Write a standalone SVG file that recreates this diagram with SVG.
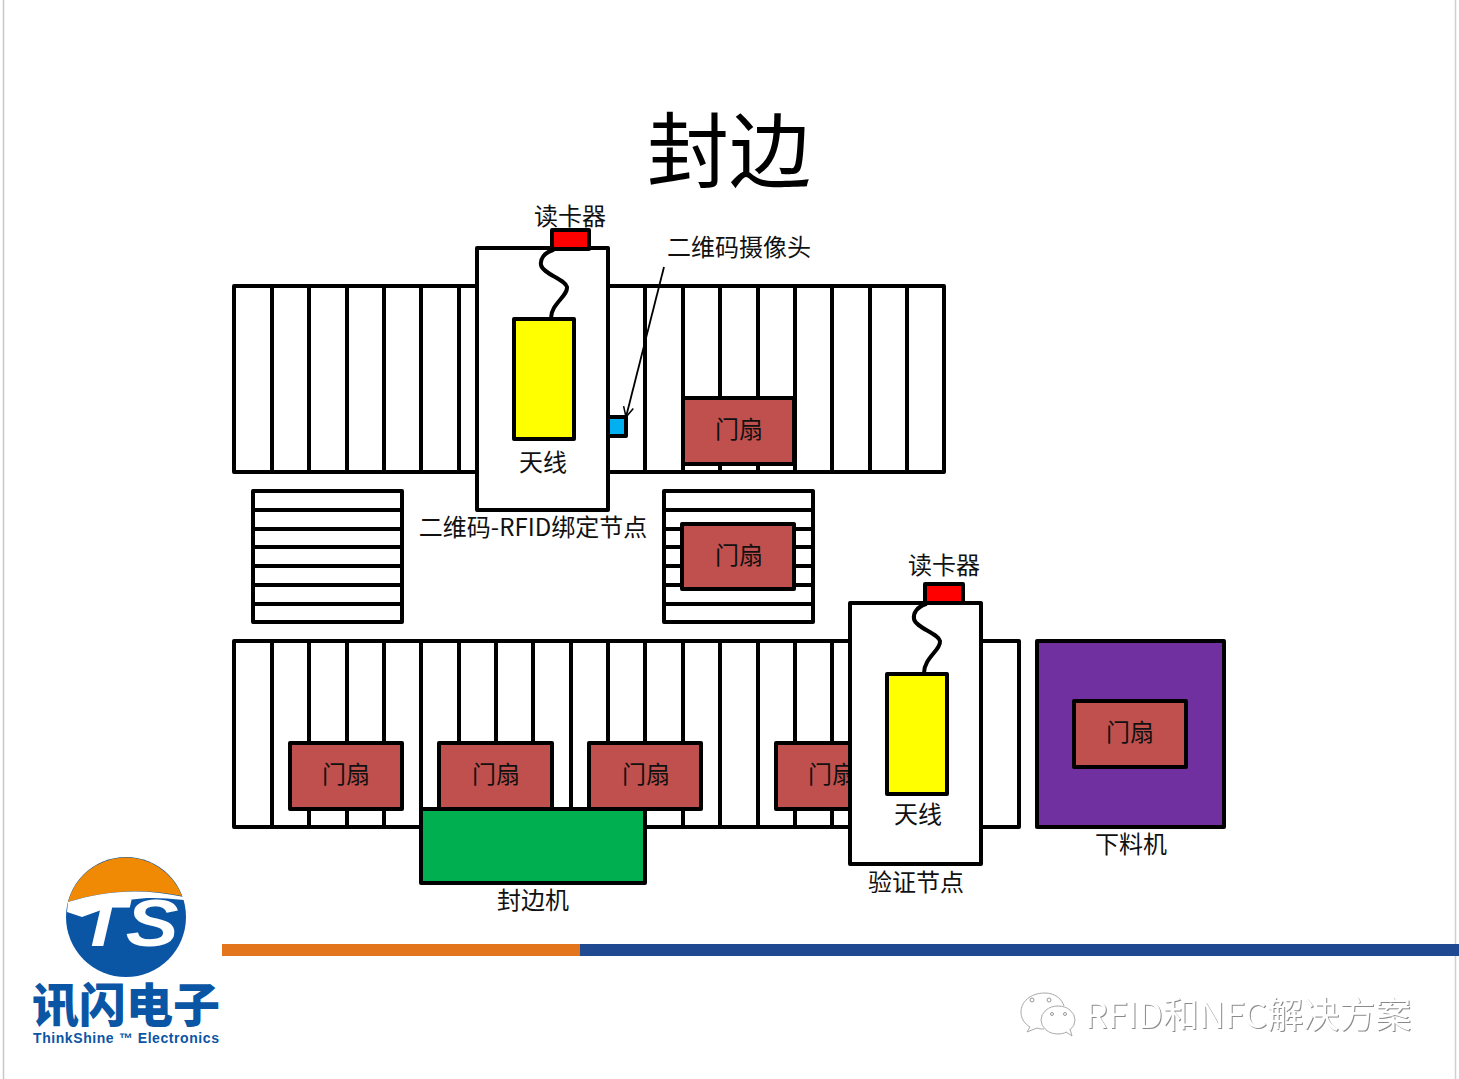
<svg xmlns="http://www.w3.org/2000/svg" width="1459" height="1079" viewBox="0 0 1459 1079">
<style>
text{font-family:"Noto Sans CJK SC","Liberation Sans",sans-serif;fill:#111;text-anchor:middle}
.l{font-size:24px}
.b{fill:#fff;stroke:#000;stroke-width:4;stroke-linejoin:round}
.s{fill:none;stroke:#000;stroke-width:4}
.d{fill:#c0504d;stroke:#000;stroke-width:4;stroke-linejoin:round}
.r{fill:#f00;stroke:#000;stroke-width:4;stroke-linejoin:round}
.y{fill:#ff0;stroke:#000;stroke-width:4;stroke-linejoin:round}
.w{fill:none;stroke:#000;stroke-width:4;stroke-linecap:round}
.wm{font-size:36px;fill:#fff;filter:drop-shadow(1px 1px 0 #8a8a8a)}
</style>
<defs>
<marker id="ah" markerWidth="14" markerHeight="14" refX="12" refY="7" orient="auto" markerUnits="userSpaceOnUse"><path d="M2 2L12 7L2 12" fill="none" stroke="#000" stroke-width="1.5"/></marker>
</defs>
<rect width="1459" height="1079" fill="#fff"/>
<path d="M3.5 0V1079" stroke="#c8c8c8" stroke-width="1.5"/>
<path d="M1455.5 0V1079" stroke="#d0d0d0" stroke-width="1.5"/>
<text x="729" y="181" style="font-size:82px;fill:#000">封边</text>

<g id="conveyor-top">
<rect class="b" x="234" y="286" width="710" height="186"/>
<path class="s" d="M272 286V472M309 286V472M347 286V472M384 286V472M421 286V472M459 286V472M645 286V472M683 286V472M720 286V472M758 286V472M795 286V472M832 286V472M870 286V472M907 286V472"/>
</g>
<g id="conveyor-left">
<rect class="b" x="253" y="491" width="149" height="131"/>
<path class="s" d="M253 510H402M253 529H402M253 547H402M253 566H402M253 585H402M253 604H402"/>
</g>
<g id="conveyor-right">
<rect class="b" x="664" y="491" width="149" height="131"/>
<path class="s" d="M664 510H813M664 529H813M664 547H813M664 566H813M664 585H813M664 604H813"/>
</g>
<g id="conveyor-bottom">
<rect class="b" x="234" y="641" width="785" height="186"/>
<path class="s" d="M272 641V827M309 641V827M347 641V827M384 641V827M421 641V827M459 641V827M496 641V827M533 641V827M571 641V827M608 641V827M645 641V827M683 641V827M720 641V827M758 641V827M795 641V827M832 641V827"/>
</g>

<g id="door-1"><rect class="d" x="683" y="398" width="111" height="66"/><text class="l" x="739" y="438">门扇</text></g>
<g id="door-2"><rect class="d" x="682" y="524" width="112" height="65"/><text class="l" x="739" y="564">门扇</text></g>
<g id="door-3"><rect class="d" x="290" y="743" width="112" height="66"/><text class="l" x="346" y="783">门扇</text></g>
<g id="door-4"><rect class="d" x="439" y="743" width="113" height="66"/><text class="l" x="496" y="783">门扇</text></g>
<g id="door-5"><rect class="d" x="589" y="743" width="112" height="66"/><text class="l" x="646" y="783">门扇</text></g>
<g id="door-6"><rect class="d" x="776" y="743" width="112" height="66"/><text class="l" x="832" y="783">门扇</text></g>

<g id="edge-machine"><rect x="421" y="809" width="224" height="74" fill="#00b050" stroke="#000" stroke-width="4" stroke-linejoin="round"/><text class="l" x="533" y="909">封边机</text></g>

<g id="bind-node">
<rect class="b" x="477" y="248" width="131" height="262"/>
<rect class="r" x="552" y="230" width="37" height="19"/>
<text class="l" x="570" y="225">读卡器</text>
<rect class="y" x="514" y="319" width="60" height="120"/>
<text class="l" x="543" y="471">天线</text>
<text class="l" x="533" y="536">二维码-RFID绑定节点</text>
</g>
<g id="camera"><rect x="608" y="417" width="18" height="19" fill="#00b0f0" stroke="#000" stroke-width="4" stroke-linejoin="round"/><text class="l" x="739" y="256">二维码摄像头</text></g>

<g id="verify-node">
<rect class="b" x="850" y="603" width="131" height="261"/>
<rect class="r" x="925" y="584" width="38" height="19"/>
<text class="l" x="944" y="574">读卡器</text>
<rect class="y" x="887" y="674" width="60" height="120"/>
<text class="l" x="918" y="823">天线</text>
<text class="l" x="916" y="891">验证节点</text>
</g>
<g id="unloader">
<rect x="1037" y="641" width="187" height="186" fill="#7030a0" stroke="#000" stroke-width="4" stroke-linejoin="round"/>
<rect class="d" x="1074" y="701" width="112" height="66"/>
<text class="l" x="1130" y="741">门扇</text>
<text class="l" x="1131" y="853">下料机</text>
</g>

<g id="connectors">
<path class="w" d="M553 250C544 253 540 259 541 265C543 274 565 279 567 287C568 296 551 304 551 318"/>
<path class="w" d="M926 604C917 607 913 613 914 619C916 628 938 633 940 641C941 650 924 658 924 673"/>
<path d="M664 267L626 417" fill="none" stroke="#000" stroke-width="1.8" marker-end="url(#ah)"/>
</g>

<rect id="bar-orange" x="222" y="944" width="358" height="12" fill="#e3761d"/>
<rect id="bar-blue" x="580" y="944" width="879" height="12" fill="#1f4a91"/>

<g id="logo">
<circle cx="126" cy="917" r="60" fill="#0b55a5"/>
<path d="M68 902A60 60 0 0 1 182 896C145 888 105 890 68 902Z" fill="#f08a05"/>
<path d="M68 902C105 890 145 888 184 897L184 900C150 896 130 898 118 904L82 917L67 912Z" fill="#fff"/>
<text transform="translate(128 946) scale(1.2 1)" style="font-size:66px;font-weight:700;font-style:italic;fill:#fff;font-family:'Liberation Sans',sans-serif">TS</text>
<text x="126" y="1022" style="font-size:47px;font-weight:900;fill:#0b55a5">讯闪电子</text>
<text x="126" y="1043" style="font-size:14px;font-weight:700;fill:#0b55a5;font-family:'Liberation Sans',sans-serif" textLength="186" lengthAdjust="spacing">ThinkShine ™ Electronics</text>
</g>

<g id="watermark">
<path d="M1045 993C1030 993 1021 1002 1021 1012C1021 1019 1025 1024 1030 1027L1027 1032L1037 1028C1040 1029 1042 1029 1044 1029" fill="#fff" stroke="#aaa" stroke-width="1"/>
<path d="M1045 993C1055 993 1062 999 1064 1006" fill="none" stroke="#aaa" stroke-width="1"/>
<ellipse cx="1058" cy="1020" rx="17" ry="14" fill="#fff" stroke="#aaa" stroke-width="1"/>
<path d="M1066 1032L1072 1036L1070 1029" fill="#fff" stroke="#aaa" stroke-width="1"/>
<circle cx="1032" cy="1000" r="2" fill="#fff" stroke="#999"/><circle cx="1049" cy="1000" r="2" fill="#fff" stroke="#999"/>
<circle cx="1052" cy="1014" r="1.5" fill="#fff" stroke="#999"/><circle cx="1065" cy="1014" r="1.5" fill="#fff" stroke="#999"/>
<text class="wm" x="1248" y="1028">RFID和NFC解决方案</text>
</g>
</svg>
